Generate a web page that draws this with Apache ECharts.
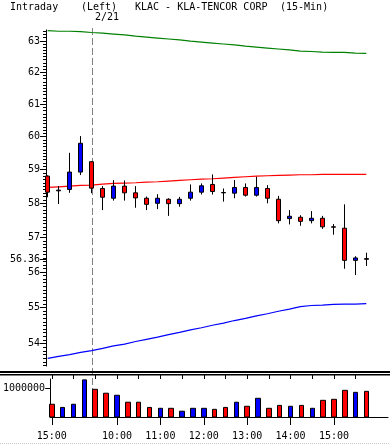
<!DOCTYPE html>
<html><head><meta charset="utf-8">
<script src="https://cdn.jsdelivr.net/npm/echarts@6/dist/echarts.min.js"></script>
<style>html,body{margin:0;padding:0;background:#fff}#c{width:390px;height:444px}</style>
</head><body><div id="c"></div>
<script>
// ---- data ----
const times = ['15:00','15:15','15:30','15:45','9:30','9:45','10:00','10:15','10:30','10:45',
  '11:00','11:15','11:30','11:45','12:00','12:15','12:30','12:45','13:00','13:15',
  '13:30','13:45','14:00','14:15','14:30','14:45','15:00','15:15','15:30','15:45'];
const opens  = [58.80,58.36,58.40,58.92,59.23,58.43,58.14,58.50,58.30,58.14,57.99,58.11,57.98,58.14,58.32,58.55,58.31,58.29,58.46,58.23,58.43,58.11,57.54,57.58,57.48,57.55,57.30,57.26,56.33,56.38];
const closes = [58.32,58.38,58.92,59.79,58.44,58.17,58.50,58.30,58.15,57.96,58.14,57.98,58.11,58.32,58.51,58.34,58.30,58.46,58.23,58.46,58.14,57.48,57.61,57.46,57.55,57.30,57.29,56.33,56.40,56.36];
const highs  = [58.82,58.50,59.50,60.01,59.25,58.50,58.68,58.67,58.50,58.19,58.26,58.14,58.18,58.55,58.58,58.85,58.43,58.68,58.58,58.78,58.53,58.21,57.79,57.64,57.76,57.62,57.38,57.96,56.45,56.55];
const lows   = [58.17,57.97,58.30,58.83,58.29,57.79,58.07,58.07,57.86,57.79,57.82,57.62,57.89,58.07,58.25,58.25,58.04,58.14,58.19,58.19,57.99,57.40,57.37,57.33,57.40,57.24,57.07,56.09,55.91,56.17];
const volumes = [440000,330000,440000,1280000,955000,820000,750000,510000,510000,330000,300000,300000,200000,300000,300000,265000,330000,510000,370000,645000,300000,400000,370000,400000,300000,575000,610000,920000,850000,885000];
const upperBand = [63.32,63.30,63.30,63.29,63.26,63.24,63.21,63.18,63.14,63.11,63.08,63.05,63.02,62.98,62.95,62.92,62.89,62.86,62.82,62.79,62.76,62.73,62.70,62.66,62.65,62.63,62.62,62.62,62.60,62.59];
const midBand   = [58.46,58.48,58.50,58.52,58.53,58.56,58.58,58.59,58.60,58.62,58.63,58.65,58.67,58.69,58.71,58.72,58.74,58.76,58.78,58.80,58.81,58.82,58.83,58.84,58.84,58.85,58.85,58.85,58.85,58.85];
const lowerBand = [53.59,53.64,53.69,53.75,53.80,53.86,53.93,53.98,54.05,54.11,54.17,54.24,54.30,54.37,54.43,54.50,54.56,54.63,54.69,54.76,54.82,54.89,54.95,55.02,55.05,55.06,55.08,55.09,55.09,55.10];
const priceTicks = [54,55,56,57,58,59,60,61,62,63];
const lastPrice = 56.36;
const volumeTicks = [1000000];
const newDay = '9:30';
const headerTexts = ['Intraday', '(Left)', 'KLAC - KLA-TENCOR CORP', '(15-Min)'];
const dateText = '2/21';

// ---- chart ----
const FONT = '"DejaVu Sans Mono", "Liberation Mono", monospace';
const X_MIN = -0.1547, X_MAX = 30.976;
const idx = times.map((t, i) => i);
const labelIdx = idx.filter(i => times[i].endsWith(':00'));
const tickIdx = idx.filter(i => i % 2 === 0);
const dateIdx = times.indexOf(newDay);

const chart = echarts.init(document.getElementById('c'), null, {renderer: 'canvas'});
const lineSeries = (data, color) => ({
  type: 'line', xAxisIndex: 0, yAxisIndex: 0, data: idx.map(i => [i, data[i]]),
  symbol: 'none', silent: true, z: 2, lineStyle: {color, width: 1.2}, itemStyle: {color}
});
const option = {
  animation: false,
  backgroundColor: '#fff',
  grid: [
    {left: 46, top: 30, width: 342, height: 336},
    {left: 46, top: 379, width: 342, height: 38}
  ],
  xAxis: [
    {type: 'value', gridIndex: 0, min: X_MIN, max: X_MAX, show: false},
    {type: 'value', gridIndex: 1, min: X_MIN, max: X_MAX,
      axisLine: {show: true, onZero: false, lineStyle: {color: '#000', width: 1}},
      axisTick: {show: true, length: 8, customValues: labelIdx, lineStyle: {color: '#000'}},
      axisLabel: {show: true, customValues: labelIdx, formatter: v => times[Math.round(v)],
        color: '#000', fontFamily: FONT, fontSize: 10, margin: 19, verticalAlign: 'middle'},
      splitLine: {show: false}},
    {type: 'value', gridIndex: 1, min: X_MIN, max: X_MAX,
      axisLine: {show: false, onZero: false},
      axisTick: {show: true, length: 5, customValues: tickIdx, lineStyle: {color: '#000'}},
      axisLabel: {show: false}, splitLine: {show: false}}
  ],
  yAxis: [
    {type: 'log', gridIndex: 0, min: 53.38, max: 63.34, logBase: 10,
      axisLine: {show: true, onZero: false, lineStyle: {color: '#000'}},
      axisTick: {show: false}, axisLabel: {show: false}, splitLine: {show: false}, minorTick: {show: false}},
    {type: 'value', gridIndex: 1, min: 0, max: 1310000,
      axisLine: {show: true, onZero: false, lineStyle: {color: '#000'}},
      axisTick: {show: true, length: 5, customValues: volumeTicks, lineStyle: {color: '#000'}},
      axisLabel: {show: true, customValues: volumeTicks, margin: 5, color: '#000', fontFamily: FONT, fontSize: 10,
        formatter: v => String(v)},
      splitLine: {show: false}}
  ],
  series: [
    lineSeries(upperBand, '#008000'),
    lineSeries(midBand, '#ff0000'),
    lineSeries(lowerBand, '#0000ff'),
    {type: 'candlestick', xAxisIndex: 0, yAxisIndex: 0, z: 3, silent: true,
      barWidth: 4,
      data: idx.map(i => [i, opens[i], closes[i], lows[i], highs[i]]),
      itemStyle: {color: '#0000ff', color0: '#ff0000', borderColor: '#000', borderColor0: '#000', borderColorDoji: '#000', borderWidth: 1}},
    // volume columns: drawn as zero-based boxes (0 -> volume) on the volume axes
    {type: 'candlestick', xAxisIndex: 1, yAxisIndex: 1, z: 3, silent: true, barWidth: 5,
      data: idx.map(i => {
        const c = closes[i] < opens[i] ? '#ff0000' : '#0000ff';
        return {value: [i, 0, volumes[i], 0, volumes[i]],
          itemStyle: {color: c, color0: c, borderColor: '#000', borderColor0: '#000', borderWidth: 1}};
      })}
  ]
};
chart.setOption(option);

// axis ticks & labels for the log price axis, positioned by the chart's own scale
const g = [];
const py = v => Math.round(chart.convertToPixel({yAxisIndex: 0}, v)) + 0.5;
for (let k = Math.ceil(53.38 * 10); k <= Math.floor(63.34 * 10); k++) {
  if (k % 10 === 0) continue;
  const y = py(k / 10);
  g.push({type: 'line', z: 10, shape: {x1: 43, y1: y, x2: 46, y2: y}, style: {stroke: '#000', lineWidth: 1}});
}
priceTicks.concat([lastPrice]).forEach(v => {
  const y = py(v);
  g.push({type: 'line', z: 10, shape: {x1: 40, y1: y, x2: 46, y2: y}, style: {stroke: '#000', lineWidth: 1}});
  g.push({type: 'text', z: 10, x: 40, y: y, style: {text: String(v), fill: '#000', font: '10px ' + FONT, textAlign: 'right', textVerticalAlign: 'middle'}});
});
// date separator
const dx = Math.round(chart.convertToPixel({xAxisIndex: 0}, dateIdx)) + 0.5;
g.push({type: 'line', z: 0, zlevel: 0, shape: {x1: dx, y1: 28, x2: dx, y2: 417}, style: {stroke: '#808080', lineWidth: 1, lineDash: [7, 3]}});
// header
const hx = [10, 81, 135, 280];
headerTexts.forEach((t, i) => g.push({type: 'text', z: 10, x: hx[i], y: 7, style: {text: t, fill: '#000', font: '10px ' + FONT, textAlign: 'left', textVerticalAlign: 'middle'}}));
g.push({type: 'text', z: 10, x: 119, y: 17, style: {text: dateText, fill: '#000', font: '10px ' + FONT, textAlign: 'right', textVerticalAlign: 'middle'}});
// panel separator
g.push({type: 'rect', z: 10, shape: {x: 0, y: 371, width: 390, height: 2}, style: {fill: '#000'}});
g.push({type: 'rect', z: 10, shape: {x: 0, y: 374, width: 390, height: 1.5}, style: {fill: '#000'}});
// frame bottom
g.push({type: 'line', z: 10, shape: {x1: 0, y1: 443.5, x2: 390, y2: 443.5}, style: {stroke: '#c8c8c8', lineWidth: 1, lineDash: [1, 1]}});
chart.setOption({graphic: {elements: g}});
</script></body></html>
